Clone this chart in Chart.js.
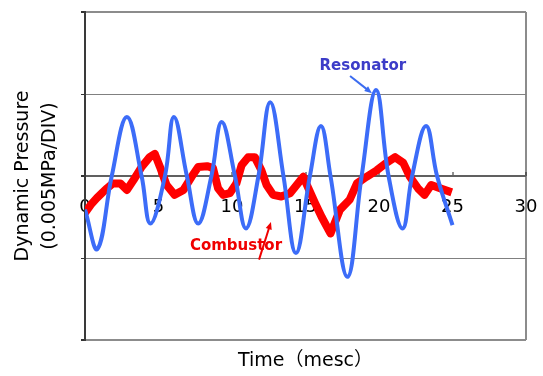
<!DOCTYPE html>
<html>
<head>
<meta charset="utf-8">
<script src="https://cdn.jsdelivr.net/npm/chart.js@4"></script>
<style>
  body { margin: 0; background: #fff; }
</style>
</head>
<body>
<canvas id="myChart" width="543" height="376"></canvas>
<script>
// values (time in ms, pressure in DIV units)
const resonatorTime = [0, 0.85, 1.82, 2.85, 3.85, 4.45, 5.44, 6.05, 6.93, 7.7, 8.6, 9.3, 10.2, 10.95, 11.8, 12.6, 13.5, 14.35, 15.3, 16.05, 16.7, 17.85, 18.82, 19.8, 20.65, 21.6, 22.25, 23.2, 23.95, 25.0];
const resonatorValue = [-0.41, -0.89, 0, 0.72, 0, -0.58, 0, 0.72, 0, -0.58, 0, 0.66, 0, -0.64, 0, 0.9, 0, -0.94, 0, 0.61, 0, -1.23, 0, 1.05, 0, -0.64, 0, 0.61, 0, -0.6];

const combustorTime = [0, 0.4, 0.8, 1.2, 1.5, 1.9, 2.4, 2.85, 3.3, 3.85, 4.4, 4.75, 5.1, 5.55, 6.1, 6.7, 7.25, 7.7, 8.3, 8.7, 9.05, 9.4, 9.85, 10.3, 10.65, 11.1, 11.55, 12.0, 12.35, 12.8, 13.35, 13.95, 14.4, 14.85, 15.2, 15.65, 16.1, 16.7, 17.35, 18.0, 18.5, 19.15, 19.85, 20.5, 21.1, 21.65, 22.1, 22.65, 23.1, 23.55, 24.15, 24.95];
const combustorValue = [-0.45, -0.35, -0.27, -0.2, -0.15, -0.09, -0.09, -0.17, -0.05, 0.11, 0.23, 0.27, 0.11, -0.11, -0.23, -0.17, -0.01, 0.11, 0.12, 0.1, -0.15, -0.23, -0.21, -0.09, 0.13, 0.23, 0.23, 0.07, -0.11, -0.23, -0.25, -0.21, -0.11, -0.01, -0.15, -0.33, -0.5, -0.7, -0.41, -0.29, -0.09, -0.01, 0.07, 0.16, 0.23, 0.16, -0.01, -0.15, -0.23, -0.11, -0.15, -0.2];

const xTicks = [0, 5, 10, 15, 20, 25, 30];
const yTitle = ['Dynamic Pressure', '(0.005MPa/DIV)'];
const xTitle = 'Time（mesc）';

const toPoints = (xs, ys) => xs.map((t, i) => ({ x: t, y: ys[i] }));

// text callouts, anchored in data units
const notes = [
    { text: 'Resonator', color: '#3c3cc8', arrowColor: '#3c6cf0', at: [18.9, 1.34], from: [18.03, 1.22], to: [19.52, 1.01] },
    { text: 'Combustor', color: '#f00000', arrowColor: '#f00000', at: [10.27, -0.85], from: [11.84, -1.02], to: [12.65, -0.56] }
];

const notesPlugin = {
    id: 'notes',
    afterDatasetsDraw(chart) {
        const { ctx, scales: { x, y } } = chart;
        ctx.save();
        notes.forEach((n) => {
            ctx.font = 'bold 15px "DejaVu Sans"';
            ctx.fillStyle = n.color;
            ctx.textAlign = 'center';
            ctx.textBaseline = 'middle';
            ctx.fillText(n.text, x.getPixelForValue(n.at[0]), y.getPixelForValue(n.at[1]));

            const x1 = x.getPixelForValue(n.from[0]), y1 = y.getPixelForValue(n.from[1]);
            const x2 = x.getPixelForValue(n.to[0]), y2 = y.getPixelForValue(n.to[1]);
            const ang = Math.atan2(y2 - y1, x2 - x1);
            ctx.strokeStyle = n.arrowColor;
            ctx.fillStyle = n.arrowColor;
            ctx.lineWidth = 2;
            ctx.beginPath();
            ctx.moveTo(x1, y1);
            ctx.lineTo(x2 - 5 * Math.cos(ang), y2 - 5 * Math.sin(ang));
            ctx.stroke();
            ctx.beginPath();
            ctx.moveTo(x2, y2);
            ctx.lineTo(x2 - 8 * Math.cos(ang - 0.4), y2 - 8 * Math.sin(ang - 0.4));
            ctx.lineTo(x2 - 8 * Math.cos(ang + 0.4), y2 - 8 * Math.sin(ang + 0.4));
            ctx.closePath();
            ctx.fill();
        });
        ctx.restore();
    }
};

const ctx = document.getElementById('myChart').getContext('2d');

new Chart(ctx, {
    type: 'line',
    data: {
        datasets: [{
            label: 'Resonator',
            data: toPoints(resonatorTime, resonatorValue),
            borderColor: '#3c6cf8',
            borderWidth: 4,
            pointRadius: 0,
            tension: 0.4,
            fill: false
        }, {
            label: 'Combustor',
            data: toPoints(combustorTime, combustorValue),
            borderColor: '#ff0000',
            borderWidth: 8,
            borderJoinStyle: 'round',
            pointRadius: 0,
            tension: 0,
            fill: false
        }]
    },
    options: {
        responsive: false,
        animation: false,
        layout: { padding: { left: 0, right: 17, top: 12, bottom: 36 } },
        plugins: {
            legend: { display: false },
            tooltip: { enabled: false }
        },
        scales: {
            x: {
                type: 'linear',
                min: 0,
                max: 30,
                position: { y: 0 },
                z: 1, // tick labels sit on top of the traces
                afterBuildTicks: (scale) => { scale.ticks = xTicks.map((v) => ({ value: v })); },
                afterFit: (scale) => {
                    scale.height = 196;
                    scale.paddingLeft = 0;
                    scale.paddingRight = 0;
                },
                ticks: {
                    padding: 25,
                    color: '#000',
                    font: { family: 'DejaVu Sans', size: 18 }
                },
                grid: {
                    drawOnChartArea: true,
                    color: (c) => (c.tick && c.tick.value === 30 ? '#8c8c8c' : 'rgba(0,0,0,0)'),
                    lineWidth: 2,
                    tickLength: -4,
                    tickColor: '#222',
                    tickWidth: 1
                },
                border: { display: false },
                title: {
                    display: true,
                    text: xTitle,
                    color: '#000',
                    padding: 0,
                    font: { family: '"DejaVu Sans", "Noto Sans CJK JP"', size: 19 }
                }
            },
            y: {
                min: -2,
                max: 2,
                afterFit: (scale) => { scale.width = 85; },
                ticks: { display: false, stepSize: 1 },
                grid: {
                    color: (c) => {
                        if (!c.tick) return '#808080';
                        if (c.tick.value === 0) return '#606060';
                        return Math.abs(c.tick.value) === 2 ? '#8c8c8c' : '#808080';
                    },
                    lineWidth: (c) => (c.tick && c.tick.value !== 1 && c.tick.value !== -1 ? 2 : 1),
                    tickLength: 4,
                    tickColor: '#333'
                },
                border: { color: '#3a3a3a', width: 2 },
                title: {
                    display: true,
                    text: yTitle,
                    color: '#000',
                    padding: { top: 10, bottom: 0 },
                    font: { family: 'DejaVu Sans', size: 19, lineHeight: 1.4 }
                }
            }
        }
    },
    plugins: [notesPlugin]
});
</script>
</body>
</html>
